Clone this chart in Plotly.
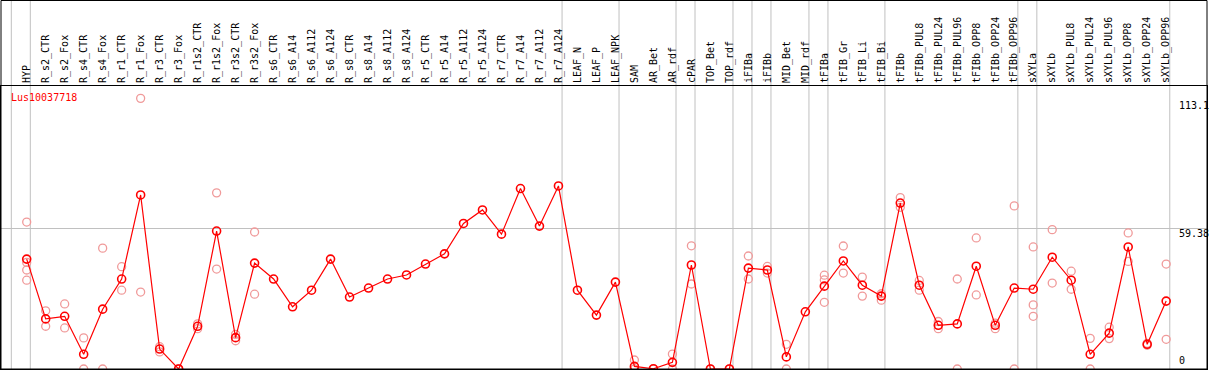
import plotly.graph_objects as go

categories = [
    "HYP", "R_s2_CTR", "R_s2_Fox", "R_s4_CTR", "R_s4_Fox", "R_r1_CTR", "R_r1_Fox",
    "R_r3_CTR", "R_r3_Fox", "R_r1s2_CTR", "R_r1s2_Fox", "R_r3s2_CTR", "R_r3s2_Fox",
    "R_s6_CTR", "R_s6_A14", "R_s6_A112", "R_s6_A124", "R_s8_CTR", "R_s8_A14",
    "R_s8_A112", "R_s8_A124", "R_r5_CTR", "R_r5_A14", "R_r5_A112", "R_r5_A124",
    "R_r7_CTR", "R_r7_A14", "R_r7_A112", "R_r7_A124", "LEAF_N", "LEAF_P", "LEAF_NPK",
    "SAM", "AR_Bet", "AR_rdf", "cPAR", "TOP_Bet", "TOP_rdf", "iFIBa", "iFIBb",
    "MID_Bet", "MID_rdf", "tFIBa", "tFIB_Gr", "tFIB_Li", "tFIB_Bi", "tFIBb",
    "tFIBb_PUL8", "tFIBb_PUL24", "tFIBb_PUL96", "tFIBb_OPP8", "tFIBb_OPP24",
    "tFIBb_OPP96", "sXYLa", "sXYLb", "sXYLb_PUL8", "sXYLb_PUL24", "sXYLb_PUL96",
    "sXYLb_OPP8", "sXYLb_OPP24", "sXYLb_OPP96",
]

mean_values = [
    46.3, 21.1, 22.2, 6.2, 25.2, 37.9, 73.3,
    8.4, 0.0, 18.0, 58.1, 13.2, 44.6,
    37.9, 26.2, 33.2, 46.3, 30.3, 34.1,
    37.9, 39.6, 44.2, 48.5, 61.3, 67.0,
    56.8, 76.0, 60.2, 77.1, 33.2, 22.7, 36.6,
    1.1, 0.1, 2.8, 43.8, 0.0, 0.0, 42.5, 41.7,
    5.1, 24.1, 34.9, 45.5, 35.3, 30.7, 69.9,
    35.3, 18.4, 19.0, 43.3, 18.4,
    34.1, 33.6, 47.1, 37.4, 6.2, 15.1,
    51.4, 10.4, 28.6,
]

replicate_values = [
    [61.9, 44.9, 41.7, 37.4], [24.5, 18.0], [27.4, 17.3], [13.1, 0.0], [50.9, 0.0],
    [43.1, 33.2], [114.0, 32.4],
    [9.4, 7.2], [0.0, 0.0], [19.0, 17.0], [74.2, 42.1], [14.6, 11.9], [57.7, 31.5],
    [], [], [], [], [], [],
    [], [], [], [], [], [],
    [], [], [], [], [], [], [],
    [3.8, 0.0], [0.0], [6.3, 0.0], [51.9, 35.8], [0.0], [0.0], [47.6, 37.9], [43.2, 40.4],
    [10.4, 0.0], [], [39.5, 37.5, 28.1], [51.8, 40.4], [38.7, 30.7], [31.7, 29.0], [72.2, 68.1],
    [37.3, 33.2], [20.0, 17.0], [37.9, 0.0], [55.2, 31.2], [19.3, 17.0],
    [68.7, 0.0], [51.4, 27.0, 22.2], [58.7, 36.2], [41.2, 33.6], [12.9, 0.0], [17.6, 12.8],
    [57.3, 45.3], [10.8, 10.0], [44.2, 12.5],
]

# group separators drawn just after these category indices
separator_after = [-1, 0, 28, 31, 34, 35, 37, 38, 39, 41, 42, 45, 52, 53, 60]

scale_labels = [113.1, 59.38, 0]
gene_name = "Lus10037718"

FONT = "DejaVu Sans Mono"
RED = "#ff0000"
PINK = "#f09a9a"
GRID = "#c0c0c0"

xs = list(range(len(categories)))
rep_x, rep_y = [], []
for i, reps in enumerate(replicate_values):
    for v in reps:
        rep_x.append(i)
        rep_y.append(v)

fig = go.Figure()
fig.add_trace(go.Scatter(
    x=rep_x, y=rep_y, mode="markers",
    marker=dict(symbol="circle-open", size=8, color=PINK, line=dict(width=1.3, color=PINK)),
    hoverinfo="skip", showlegend=False,
))
fig.add_trace(go.Scatter(
    x=xs, y=mean_values, mode="lines+markers",
    line=dict(color=RED, width=1.2),
    marker=dict(symbol="circle-open", size=8, color=RED, line=dict(width=1.6, color=RED)),
    showlegend=False,
))

shapes = []
for i in separator_after:
    shapes.append(dict(type="line", xref="x", yref="paper", x0=i + 0.19, x1=i + 0.19,
                       y0=0, y1=1 + 86 / 283, line=dict(color=GRID, width=1), layer="below"))
# outer frame around header + plot
shapes.append(dict(type="rect", xref="paper", yref="paper", x0=0, x1=1, y0=0,
                   y1=1 + 85.5 / 283, line=dict(color="black", width=1)))

annotations = [dict(text=gene_name, xref="paper", yref="paper", x=0.0065, y=0.985,
                    xanchor="left", yanchor="top", showarrow=False,
                    font=dict(family=FONT, size=10, color=RED))]
for v in scale_labels:
    annotations.append(dict(text=str(v), xref="paper", yref="y", x=0.9755, y=v,
                            xanchor="left", yanchor="top" if v > 0 else "bottom",
                            yshift=2 if v > 0 else 1, showarrow=False,
                            font=dict(family=FONT, size=10, color="black")))

fig.update_layout(
    width=1209, height=370,
    margin=dict(l=1, r=2, t=86, b=1, pad=0),
    paper_bgcolor="white", plot_bgcolor="white",
    shapes=shapes, annotations=annotations,
    xaxis=dict(
        range=[-1.353, 62.15], side="top", tickmode="array", tickvals=xs,
        ticktext=categories, tickangle=-90, ticks="", showgrid=False, zeroline=False,
        tickfont=dict(family=FONT, size=10, color="black"),
        showline=True, mirror=True, linecolor="black", linewidth=1,
    ),
    yaxis=dict(
        range=[0, 119.2], tickmode="array", tickvals=[59.38], showticklabels=False,
        ticks="", showgrid=True, gridcolor=GRID, gridwidth=1, zeroline=False,
        showline=True, mirror=True, linecolor="black", linewidth=1,
    ),
)

fig.write_html(
    "out.html",
    config={"displayModeBar": False},
    post_script="document.body.style.margin='0';document.body.style.padding='0';"
                "document.body.style.overflow='hidden';",
)
